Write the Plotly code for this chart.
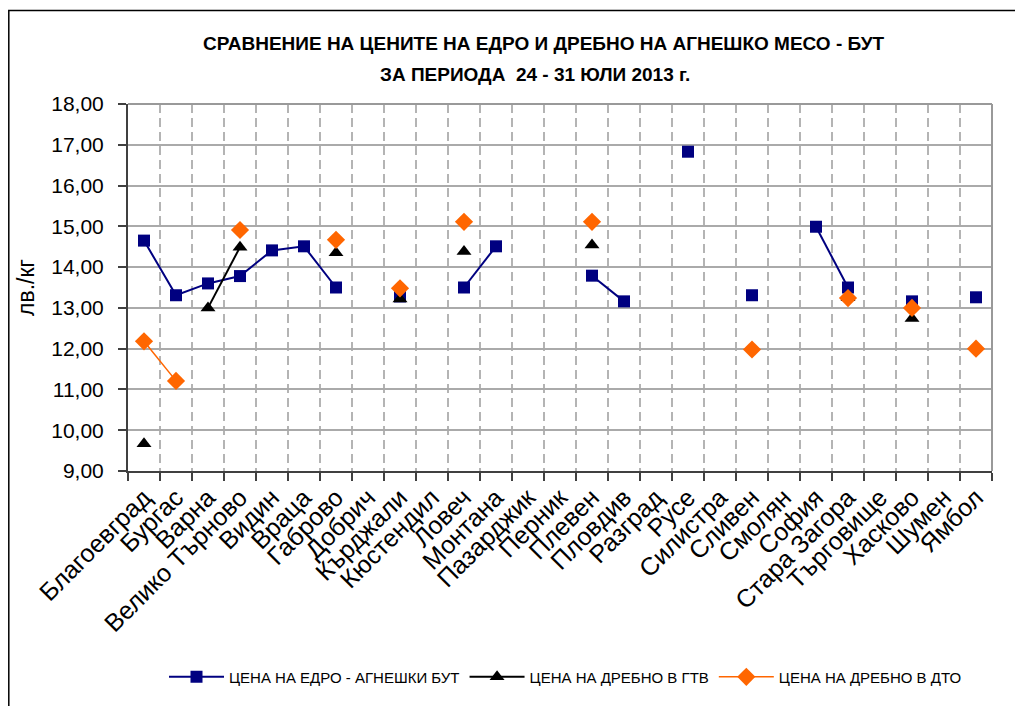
import plotly.graph_objects as go

regions = ["Благоевград", "Бургас", "Варна", "Велико Търново", "Видин", "Враца", "Габрово",
           "Добрич", "Кърджали", "Кюстендил", "Ловеч", "Монтана", "Пазарджик", "Перник",
           "Плевен", "Пловдив", "Разград", "Русе", "Силистра", "Сливен", "Смолян", "София",
           "Стара Загора", "Търговище", "Хасково", "Шумен", "Ямбол"]

wholesale = [14.65, 13.31, 13.60, 13.78, 14.41, 14.51, 13.50,
             None, 13.28, None, 13.50, 14.51, None, None,
             13.79, 13.16, None, 16.83, None, 13.31, None, 14.99,
             13.50, None, 13.16, None, 13.26]

retail_gtv = [9.67, None, 13.00, 14.49, None, None, 14.35,
              None, 13.22, None, 14.38, None, None, None,
              14.54, None, None, None, None, None, None, None,
              13.25, None, 12.74, None, None]

retail_dto = [12.18, 11.21, None, 14.91, None, None, 14.67,
              None, 13.48, None, 15.11, None, None, None,
              15.11, None, None, None, None, 11.98, None, None,
              13.24, None, 13.00, None, 12.00]

series_names = ["ЦЕНА НА ЕДРО - АГНЕШКИ БУТ", "ЦЕНА НА ДРЕБНО В ГТВ", "ЦЕНА НА ДРЕБНО В ДТО"]
title_line1 = "СРАВНЕНИЕ НА ЦЕНИТЕ НА ЕДРО И ДРЕБНО НА АГНЕШКО МЕСО - БУТ"
title_line2 = "ЗА ПЕРИОДА\u00a0\u00a024 - 31 ЮЛИ 2013 г."
y_title = "лв./кг"

fig = go.Figure()
fig.add_trace(go.Scatter(x=regions, y=wholesale, name=series_names[0], mode="lines+markers",
                         line=dict(color="#000080", width=2),
                         marker=dict(symbol="square", size=12, color="#000080")))
fig.add_trace(go.Scatter(x=regions, y=retail_gtv, name=series_names[1], mode="lines+markers",
                         line=dict(color="#000000", width=2),
                         marker=dict(symbol="triangle-up", size=13, color="#000000")))
fig.add_trace(go.Scatter(x=regions, y=retail_dto, name=series_names[2], mode="lines+markers",
                         line=dict(color="#FF6600", width=1.5),
                         marker=dict(symbol="diamond", size=14, color="#FF6600")))

# page has an 8px body margin: work in page coordinates, convert to figure coordinates
OFF = 8
W, H = 1023 - OFF, 706 - OFF
PL, PR, PT, PB = 128, 992, 104, 478          # plot area in page pixels
L, T = PL - OFF, PT - OFF
pw, ph = PR - PL, PB - PT
R, B = W - L - pw, H - T - ph

def px_x(p):
    return (p - PL) / pw

def px_y(p):
    return (PB - p) / ph

FONT = "Liberation Sans, Arial, sans-serif"

fig.update_layout(
    width=W, height=H,
    margin=dict(l=L, r=R, t=T, b=B, pad=0),
    paper_bgcolor="white", plot_bgcolor="white",
    separators=", ",
    font=dict(family=FONT, color="#000000"),
    showlegend=True,
    legend=dict(orientation="h", x=px_x(164), y=px_y(688), xanchor="left", yanchor="middle",
                font=dict(family=FONT, size=15), itemwidth=55,
                tracegroupgap=0, bgcolor="rgba(0,0,0,0)"),
    xaxis=dict(type="category", categoryorder="array", categoryarray=regions,
               range=[-0.5, len(regions) - 0.5],
               tickson="boundaries", ticks="outside", ticklen=8, tickcolor="#404040", tickwidth=1.5,
               showgrid=True, gridcolor="#b4b4b4", gridwidth=1.5, griddash="9px,5px",
               showline=True, linecolor="#404040", linewidth=2,
               tickangle=-45, tickfont=dict(size=25), zeroline=False, automargin=False),
    yaxis=dict(range=[9, 18], dtick=1, tickformat=".2f",
               ticks="outside", ticklen=8, tickcolor="#404040", tickwidth=1.5,
               showgrid=True, gridcolor="#aaaaaa", gridwidth=1.5,
               showline=True, linecolor="#404040", linewidth=2,
               tickfont=dict(size=21), ticklabelstandoff=10, zeroline=False, automargin=False,
               title=dict(text=y_title, font=dict(size=23), standoff=10)),
    annotations=[
        dict(text="<b>" + title_line1 + "</b>", xref="paper", yref="paper",
             x=px_x(544), y=px_y(42), xanchor="center", yanchor="middle", showarrow=False,
             font=dict(family=FONT, size=19)),
        dict(text="<b>" + title_line2 + "</b>", xref="paper", yref="paper",
             x=px_x(535), y=px_y(74), xanchor="center", yanchor="middle", showarrow=False,
             font=dict(family=FONT, size=19)),
    ],
    shapes=[
        # outer chart frame
        dict(type="rect", xref="paper", yref="paper", x0=px_x(8.8), x1=px_x(1060), y0=px_y(760), y1=px_y(8.8),
             line=dict(color="#000000", width=1.5), layer="below"),
        # top and right plot border
        dict(type="line", xref="paper", yref="paper", x0=0, x1=1, y0=1, y1=1,
             line=dict(color="#999999", width=2)),
        dict(type="line", xref="paper", yref="paper", x0=1, x1=1, y0=0, y1=1,
             line=dict(color="#999999", width=2)),
    ],
)

fig.write_html("out.html")
